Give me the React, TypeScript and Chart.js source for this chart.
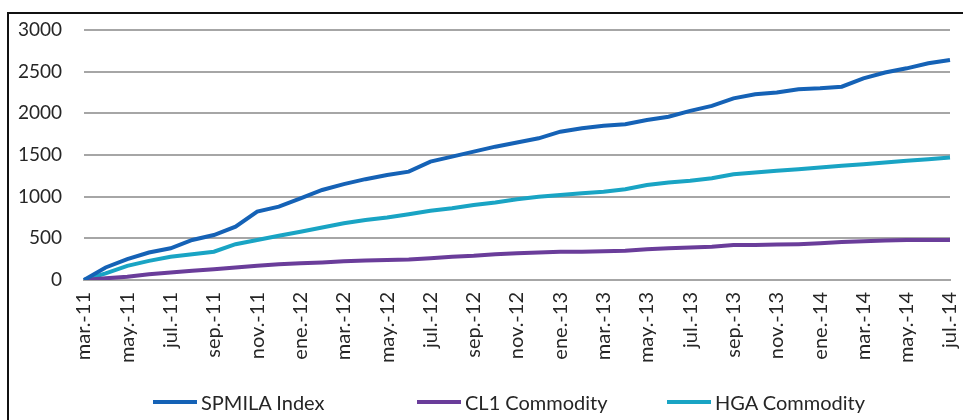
import React, { useEffect, useRef } from "react";
import { Chart, registerables } from "chart.js";

Chart.register(...registerables);

// monthly categories from mar.-11 to jul.-14
const categories: string[] = [
  "mar.-11", "abr.-11", "may.-11", "jun.-11", "jul.-11", "ago.-11", "sep.-11", "oct.-11", "nov.-11", "dic.-11",
  "ene.-12", "feb.-12", "mar.-12", "abr.-12", "may.-12", "jun.-12", "jul.-12", "ago.-12", "sep.-12", "oct.-12", "nov.-12", "dic.-12",
  "ene.-13", "feb.-13", "mar.-13", "abr.-13", "may.-13", "jun.-13", "jul.-13", "ago.-13", "sep.-13", "oct.-13", "nov.-13", "dic.-13",
  "ene.-14", "feb.-14", "mar.-14", "abr.-14", "may.-14", "jun.-14", "jul.-14",
];

const spmilaIndex: number[] = [
  0, 150, 250, 330, 380, 480, 540, 640, 820, 880,
  980, 1080, 1150, 1210, 1260, 1300, 1420, 1480, 1540, 1600, 1650, 1700,
  1780, 1820, 1850, 1870, 1920, 1960, 2030, 2090, 2180, 2230, 2250, 2290,
  2300, 2320, 2420, 2490, 2540, 2600, 2640,
];

const cl1Commodity: number[] = [
  0, 20, 40, 70, 90, 110, 130, 150, 170, 190,
  200, 210, 225, 235, 240, 245, 260, 280, 290, 310, 320, 330,
  340, 340, 345, 350, 370, 380, 390, 400, 420, 420, 425, 430,
  440, 455, 465, 475, 480, 480, 480,
];

const hgaCommodity: number[] = [
  0, 80, 170, 230, 280, 310, 340, 430, 480, 530,
  580, 630, 680, 720, 750, 790, 830, 860, 900, 930, 970, 1000,
  1020, 1040, 1060, 1090, 1140, 1170, 1190, 1220, 1270, 1290, 1310, 1330,
  1350, 1370, 1390, 1410, 1430, 1450, 1470,
];

const seriesNames: string[] = ["SPMILA Index", "CL1 Commodity", "HGA Commodity"];
const seriesColors: string[] = ["#1562b6", "#6a3d9a", "#19a4c4"];

const yTicks: number[] = [0, 500, 1000, 1500, 2000, 2500, 3000];

const FONT = "Lato, 'Open Sans', sans-serif";
const TEXT = "#262626";

export default function App() {
  const ref = useRef<HTMLCanvasElement | null>(null);

  useEffect(() => {
    if (!ref.current) return;
    const data = [spmilaIndex, cl1Commodity, hgaCommodity];
    const chart = new Chart(ref.current, {
      type: "line",
      data: {
        labels: categories,
        datasets: seriesNames.map((name, i) => ({
          label: name,
          data: data[i],
          borderColor: seriesColors[i],
          backgroundColor: seriesColors[i],
          borderWidth: 4,
          pointRadius: 0,
          tension: 0,
          fill: false,
        })),
      },
      options: {
        animation: false,
        responsive: false,
        maintainAspectRatio: false,
        layout: { padding: { left: 0, right: 13, top: 30, bottom: 0 } },
        plugins: {
          legend: { display: false },
          tooltip: { enabled: false },
        },
        scales: {
          x: {
            type: "category",
            grid: { display: false, drawTicks: false },
            border: { display: true, color: "#a6a6a6", width: 2 },
            ticks: {
              autoSkip: false,
              minRotation: 90,
              maxRotation: 90,
              padding: 12,
              color: TEXT,
              font: { family: FONT, size: 20 },
              callback: (_v: any, index: number) => (index % 2 === 0 ? categories[index] : ""),
            },
            afterFit: (scale: any) => {
              scale.height = 140;
              scale.paddingLeft = 0;
              scale.paddingRight = 0;
            },
          },
          y: {
            min: 0,
            max: 3000,
            afterBuildTicks: (scale: any) => {
              scale.ticks = yTicks.map((v) => ({ value: v }));
            },
            grid: { color: "#a6a6a6", lineWidth: 2, drawTicks: false },
            border: { display: false },
            ticks: {
              padding: 22,
              color: TEXT,
              font: { family: FONT, size: 19 },
              callback: (v: any) => String(v),
            },
            afterFit: (scale: any) => {
              scale.width = 84;
              scale.paddingTop = 0;
              scale.paddingBottom = 0;
            },
          },
        },
      },
    });
    return () => chart.destroy();
  }, []);

  const legendLeft = [153, 417, 667];

  return (
    <div style={{ position: "fixed", left: 0, top: 0, width: 963, height: 420, background: "#fff", overflow: "hidden" }}>
      <div
        style={{
          position: "absolute",
          left: 7,
          top: 12,
          width: 980,
          height: 440,
          borderTop: "2px solid #111",
          borderLeft: "2px solid #111",
        }}
      />
      <canvas ref={ref} width={963} height={420} style={{ position: "absolute", left: 0, top: 0, width: 963, height: 420 }} />
      {seriesNames.map((name, i) => (
        <div
          key={name}
          style={{
            position: "absolute",
            left: legendLeft[i],
            top: 389,
            height: 26,
            display: "flex",
            alignItems: "center",
            fontFamily: FONT,
            fontSize: 20,
            color: TEXT,
            whiteSpace: "nowrap",
          }}
        >
          <span style={{ display: "inline-block", width: 44, height: 4, background: seriesColors[i], marginRight: 4 }} />
          <span>{name}</span>
        </div>
      ))}
    </div>
  );
}
